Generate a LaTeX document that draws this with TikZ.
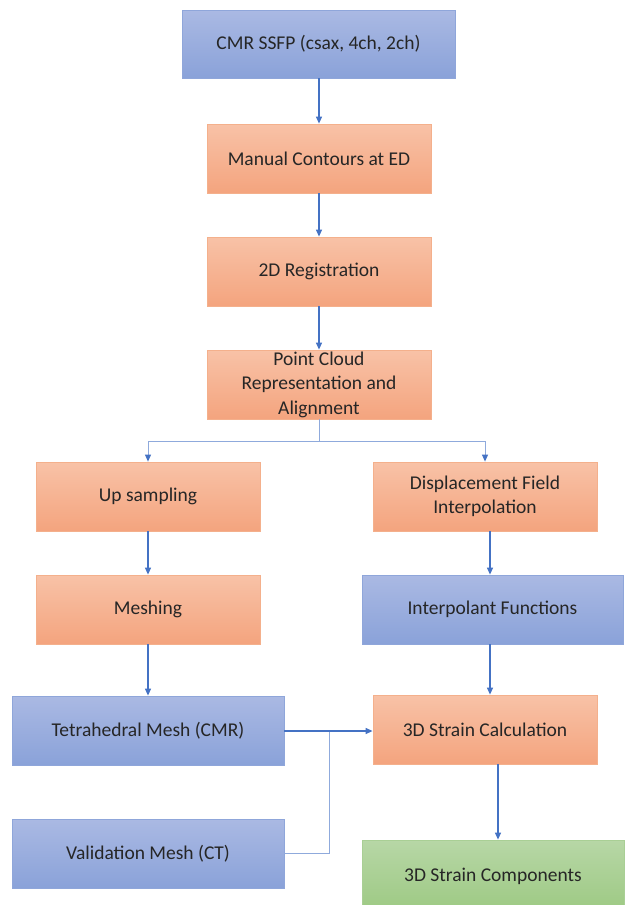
\documentclass[tikz,border=0pt]{standalone}
\usepackage{fontspec}
\setmainfont{Carlito}
\usetikzlibrary{arrows.meta}
\definecolor{obTop}{HTML}{F8C2A7}
\definecolor{obBot}{HTML}{F4A47E}
\definecolor{obLine}{HTML}{F4B08C}
\definecolor{bbTop}{HTML}{AAB9E3}
\definecolor{bbBot}{HTML}{8AA2D9}
\definecolor{bbLine}{HTML}{8FA6DA}
\definecolor{gbTop}{HTML}{B7D7A6}
\definecolor{gbBot}{HTML}{9DC983}
\definecolor{gbLine}{HTML}{A9CF95}
\definecolor{arrDark}{HTML}{4472C4}
\definecolor{arrLight}{HTML}{8FAADC}
\tikzset{
  basebox/.style={rectangle, inner sep=0pt, align=center, text=black!85,
    font=\fontsize{19.5}{24.5}\selectfont, line width=0.8pt},
  orangebox/.style={basebox, draw=obLine, top color=obTop, bottom color=obBot},
  bluebox/.style={basebox, draw=bbLine, top color=bbTop, bottom color=bbBot},
  greenbox/.style={basebox, draw=gbLine, top color=gbTop, bottom color=gbBot},
  darr/.style={draw=arrDark, line width=1.2pt, -{Triangle[length=7pt,width=6pt]}},
  larr/.style={draw=arrLight, line width=0.9pt, -{Triangle[length=7pt,width=6pt,color=arrDark]}},
  lline/.style={draw=arrLight, line width=0.9pt}
}
\begin{document}
\begin{tikzpicture}[x=1pt,y=-1pt]
\useasboundingbox (0,0) rectangle (625,905);
% boxes
\node[bluebox, minimum width=273pt, minimum height=68pt] (ssfp) at (318.5,44) {CMR SSFP (csax, 4ch, 2ch)};
\node[orangebox, minimum width=224pt, minimum height=69pt] (contours) at (319,158.5) {Manual Contours at ED};
\node[orangebox, minimum width=224pt, minimum height=69pt] (reg) at (319,271.5) {2D Registration};
\node[orangebox, minimum width=224pt, minimum height=69pt] (pc) at (319,384.5) {Point Cloud\\Representation and\\Alignment};
\node[orangebox, minimum width=224pt, minimum height=69pt] (up) at (148,496.5) {Up sampling};
\node[orangebox, minimum width=224pt, minimum height=69pt] (disp) at (485,496.5) {Displacement Field\\Interpolation};
\node[orangebox, minimum width=224pt, minimum height=69pt] (mesh) at (148,609.5) {Meshing};
\node[bluebox, minimum width=261pt, minimum height=69pt] (interp) at (492.5,609.5) {Interpolant Functions};
\node[bluebox, minimum width=272pt, minimum height=69pt] (tet) at (148,730.5) {Tetrahedral Mesh (CMR)};
\node[orangebox, minimum width=224pt, minimum height=69pt] (strain) at (485,729.5) {3D Strain Calculation};
\node[bluebox, minimum width=272pt, minimum height=69pt] (val) at (148,853.5) {Validation Mesh (CT)};
\node[greenbox, minimum width=262pt, minimum height=72pt] (comp) at (493,876) {3D Strain Components};
% connectors
\draw[darr] ([xshift=0.5pt]ssfp.south) -- (contours.north);
\draw[darr] (contours.south) -- (reg.north);
\draw[darr] (reg.south) -- (pc.north);
\coordinate (split) at (319,441);
\draw[lline] (pc.south) -- (split);
\draw[larr] (split) -| (up.north);
\draw[larr] (split) -| (disp.north);
\draw[darr] (up.south) -- (mesh.north);
\draw[darr] (mesh.south) -- (tet.north);
\draw[darr] ([xshift=5pt]disp.south) -- ([xshift=5pt]disp.south |- interp.north);
\draw[darr] ([xshift=5pt]interp.south -| disp.south) -- ([xshift=5pt]strain.north);
\coordinate (join) at (329,731);
\draw[lline] (val.east) -| (join);
\draw[darr] (tet.east |- join) -- (strain.west |- join);
\draw[darr] ([xshift=13pt]strain.south) -- ([xshift=13pt]strain.south |- comp.north);
\end{tikzpicture}
\end{document}
